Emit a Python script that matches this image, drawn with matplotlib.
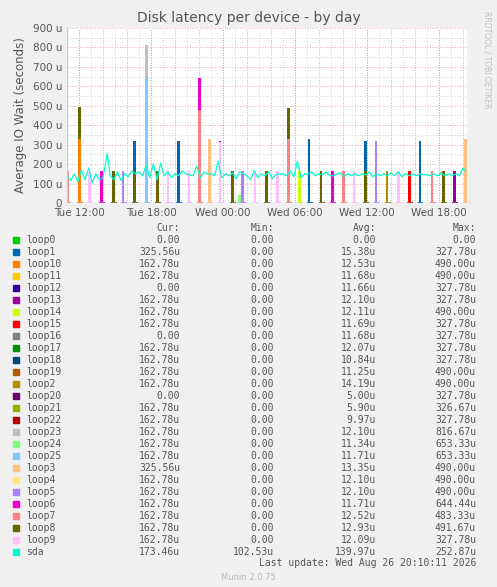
import matplotlib
matplotlib.use("Agg")
import matplotlib.pyplot as plt
import numpy as np
from matplotlib.ticker import MultipleLocator, FixedLocator

names = ["loop0","loop1","loop10","loop11","loop12","loop13","loop14","loop15","loop16","loop17",
         "loop18","loop19","loop2","loop20","loop21","loop22","loop23","loop24","loop25","loop3",
         "loop4","loop5","loop6","loop7","loop8","loop9","sda"]
colors = ["#00CC00","#0066B3","#FF8000","#FFCC00","#330099","#990099","#CCFF00","#FF0000","#808080","#008F00",
          "#00487D","#B35A00","#B38F00","#6B006B","#8FB300","#B30000","#BEBEBE","#80FF80","#80C9FF","#FFC080",
          "#FFE680","#AA80FF","#EE00CC","#FF8080","#666600","#FFBFFF","#00FFCC"]
cur = ["0.00","325.56u","162.78u","162.78u","0.00","162.78u","162.78u","162.78u","0.00","162.78u",
       "162.78u","162.78u","162.78u","0.00","162.78u","162.78u","162.78u","162.78u","162.78u","325.56u",
       "162.78u","162.78u","162.78u","162.78u","162.78u","162.78u","173.46u"]
mins = ["0.00"]*26 + ["102.53u"]
avgs = ["0.00","15.38u","12.53u","11.68u","11.66u","12.10u","12.11u","11.69u","11.68u","12.07u",
        "10.84u","11.25u","14.19u","5.00u","5.90u","9.97u","12.10u","11.34u","11.71u","13.35u",
        "12.10u","12.10u","11.71u","12.52u","12.93u","12.09u","139.97u"]
maxs = ["0.00","327.78u","490.00u","490.00u","327.78u","327.78u","490.00u","327.78u","327.78u","327.78u",
        "327.78u","490.00u","490.00u","327.78u","326.67u","327.78u","816.67u","653.33u","653.33u","490.00u",
        "490.00u","490.00u","644.44u","483.33u","491.67u","327.78u","252.87u"]

# spikes: hour (from Tue 00:00), device, value (microseconds)
spike_hours = [11.06,12.03,12.03,12.86,13.89,14.89,15.69,16.64,16.64,17.64,17.64,18.53,19.44,20.28,21.17,
               22.03,22.03,22.86,23.75,23.75,24.78,25.36,25.61,26.67,27.64,28.53,29.47,29.47,30.36,31.19,
               32.19,33.11,34.03,34.92,35.86,35.86,36.75,37.69,38.61,39.53,40.42,41.44,42.36,43.28,44.22]
spike_devs = ["loop7","loop8","loop10","loop9","loop6","loop8","loop5","loop1","loop8","loop23","loop25","loop8",
              "loop9","loop1","loop9","loop6","loop7","loop3","loop13","loop9","loop8","loop24","loop5","loop9",
              "loop8","loop9","loop8","loop7","loop14","loop1","loop8","loop6","loop7","loop9","loop1","loop8",
              "loop5","loop2","loop9","loop15","loop1","loop7","loop8","loop13","loop3"]
spike_vals = [165,495,330,160,165,162,162,320,162,815,655,162,162,320,162,645,480,330,320,315,162,40,162,162,
              165,162,490,330,162,330,165,162,162,162,320,162,320,162,162,162,320,162,162,162,330]

sda_hours = [11.0,11.3,11.6,11.9,12.2,12.5,12.8,13.1,13.4,13.7,14.0,14.36,14.6,14.9,15.2,15.5,15.8,16.1,16.4,16.7,
             17.0,17.3,17.6,17.9,18.2,18.5,18.8,19.1,19.4,19.7,20.0,20.3,20.6,20.9,21.2,21.5,21.8,22.1,22.4,22.7,
             23.0,23.3,23.6,23.9,24.2,24.5,24.8,25.1,25.4,25.7,26.0,26.3,26.6,26.9,27.2,27.5,27.8,28.1,28.4,28.7,
             29.0,29.3,29.6,29.9,30.2,30.5,30.8,31.1,31.4,31.7,32.0,32.3,32.6,32.9,33.2,33.5,33.8,34.1,34.4,34.7,
             35.0,35.3,35.6,35.9,36.2,36.5,36.8,37.1,37.4,37.7,38.0,38.3,38.6,38.9,39.2,39.5,39.8,40.1,40.4,40.7,
             41.0,41.3,41.6,41.9,42.2,42.5,42.8,43.1,43.4,43.7,44.0,44.2]
sda_vals = [140,115,150,110,170,120,180,105,150,120,130,255,140,120,160,115,150,135,165,150,
            160,140,195,130,200,120,205,140,160,130,150,140,165,150,145,140,190,130,160,150,
            150,140,215,130,150,140,155,125,160,150,140,120,165,130,150,140,160,125,145,150,
            150,140,165,135,215,130,150,150,160,140,150,145,160,140,140,150,155,135,150,140,
            150,140,150,145,160,135,150,140,150,140,155,140,160,135,150,140,150,140,150,145,
            145,140,150,140,155,140,150,140,150,140,180,165]

fig = plt.figure(figsize=(4.97, 5.87), dpi=100, facecolor="#F0F0F0")
ax = fig.add_axes([67/497, 1-203/587, 400/497, 175/587])
ax.set_facecolor("white")
x0, x1 = 11.0, 11.0 + 400/12
ax.set_xlim(x0, x1)
ax.set_ylim(0, 900)

w = 0.2
for h, d, v in zip(spike_hours, spike_devs, spike_vals):
    c = colors[names.index(d)]
    ax.bar(h, v, width=w, color=c, zorder=3, linewidth=0)
    ax.plot([h - 0.12, h + 0.2], [1, 1], color=c, lw=1.5, zorder=3)
ax.plot(sda_hours, sda_vals, color=colors[-1], lw=0.9, zorder=4)

ax.yaxis.set_major_locator(MultipleLocator(100))
ax.yaxis.set_minor_locator(MultipleLocator(50))
ax.xaxis.set_major_locator(FixedLocator([12, 18, 24, 30, 36, 42]))
ax.xaxis.set_minor_locator(MultipleLocator(1))
ax.grid(which="minor", color="#c8c8c8", ls=(0, (1, 2)), lw=0.6)
ax.grid(which="major", color="#e09090", ls=(0, (1, 2)), lw=0.6)
ax.set_axisbelow(True)
ax.tick_params(which="both", length=0, labelsize=7.5, colors="#555555")
ax.set_xticks([12, 18, 24, 30, 36, 42], ["Tue 12:00", "Tue 18:00", "Wed 00:00", "Wed 06:00", "Wed 12:00", "Wed 18:00"])
for hh in np.arange(12, 45, 2):
    ax.axvline(hh, color="#e09090", ls=(0, (1, 2)), lw=0.6, zorder=0.5)
ax.set_yticks(range(0, 1000, 100), ["0"] + [f"{v} u" for v in range(100, 1000, 100)])
for s in ax.spines.values():
    s.set_visible(False)
ax.axhline(0, color="#c0c8f0", lw=1, zorder=5)
ax.axvline(x0, color="#c0c8f0", lw=1, zorder=5)
ax.set_ylabel("Average IO Wait (seconds)", fontsize=8.5, color="#555555")
fig.text(0.5, 1-18/587, "Disk latency per device - by day", ha="center", va="center", fontsize=10, color="#555555")
fig.text(487/497, 1-60/587, "RRDTOOL / TOBI OETIKER", rotation=270, ha="center", va="center", fontsize=5.5, color="#c0c0c0")

mono = "DejaVu Sans Mono"
fs = 7
ty = lambda y: 1 - y/587
for txt, xr in [("Cur:", 180), ("Min:", 274), ("Avg:", 376), ("Max:", 476)]:
    fig.text(xr/497, ty(228), txt, ha="right", va="center", fontsize=fs, family=mono, color="#555555")
for i, n in enumerate(names):
    y = 240 + i*12.0
    fig.patches.append(plt.Rectangle((13/497, ty(y+3)), 6/497, 6/587, transform=fig.transFigure, color=colors[i]))
    fig.text(26/497, ty(y), n, ha="left", va="center", fontsize=fs, family=mono, color="#555555")
    for val, xr in [(cur[i], 180), (mins[i], 274), (avgs[i], 376), (maxs[i], 476)]:
        fig.text(xr/497, ty(y), val, ha="right", va="center", fontsize=fs, family=mono, color="#555555")
fig.text(476/497, ty(563), "Last update: Wed Aug 26 20:10:11 2026", ha="right", va="center", fontsize=fs, family=mono, color="#555555")
fig.text(0.5, ty(577), "Munin 2.0.75", ha="center", va="center", fontsize=6, color="#bbbbbb")
fig.savefig("out.png", dpi=100, facecolor=fig.get_facecolor())
